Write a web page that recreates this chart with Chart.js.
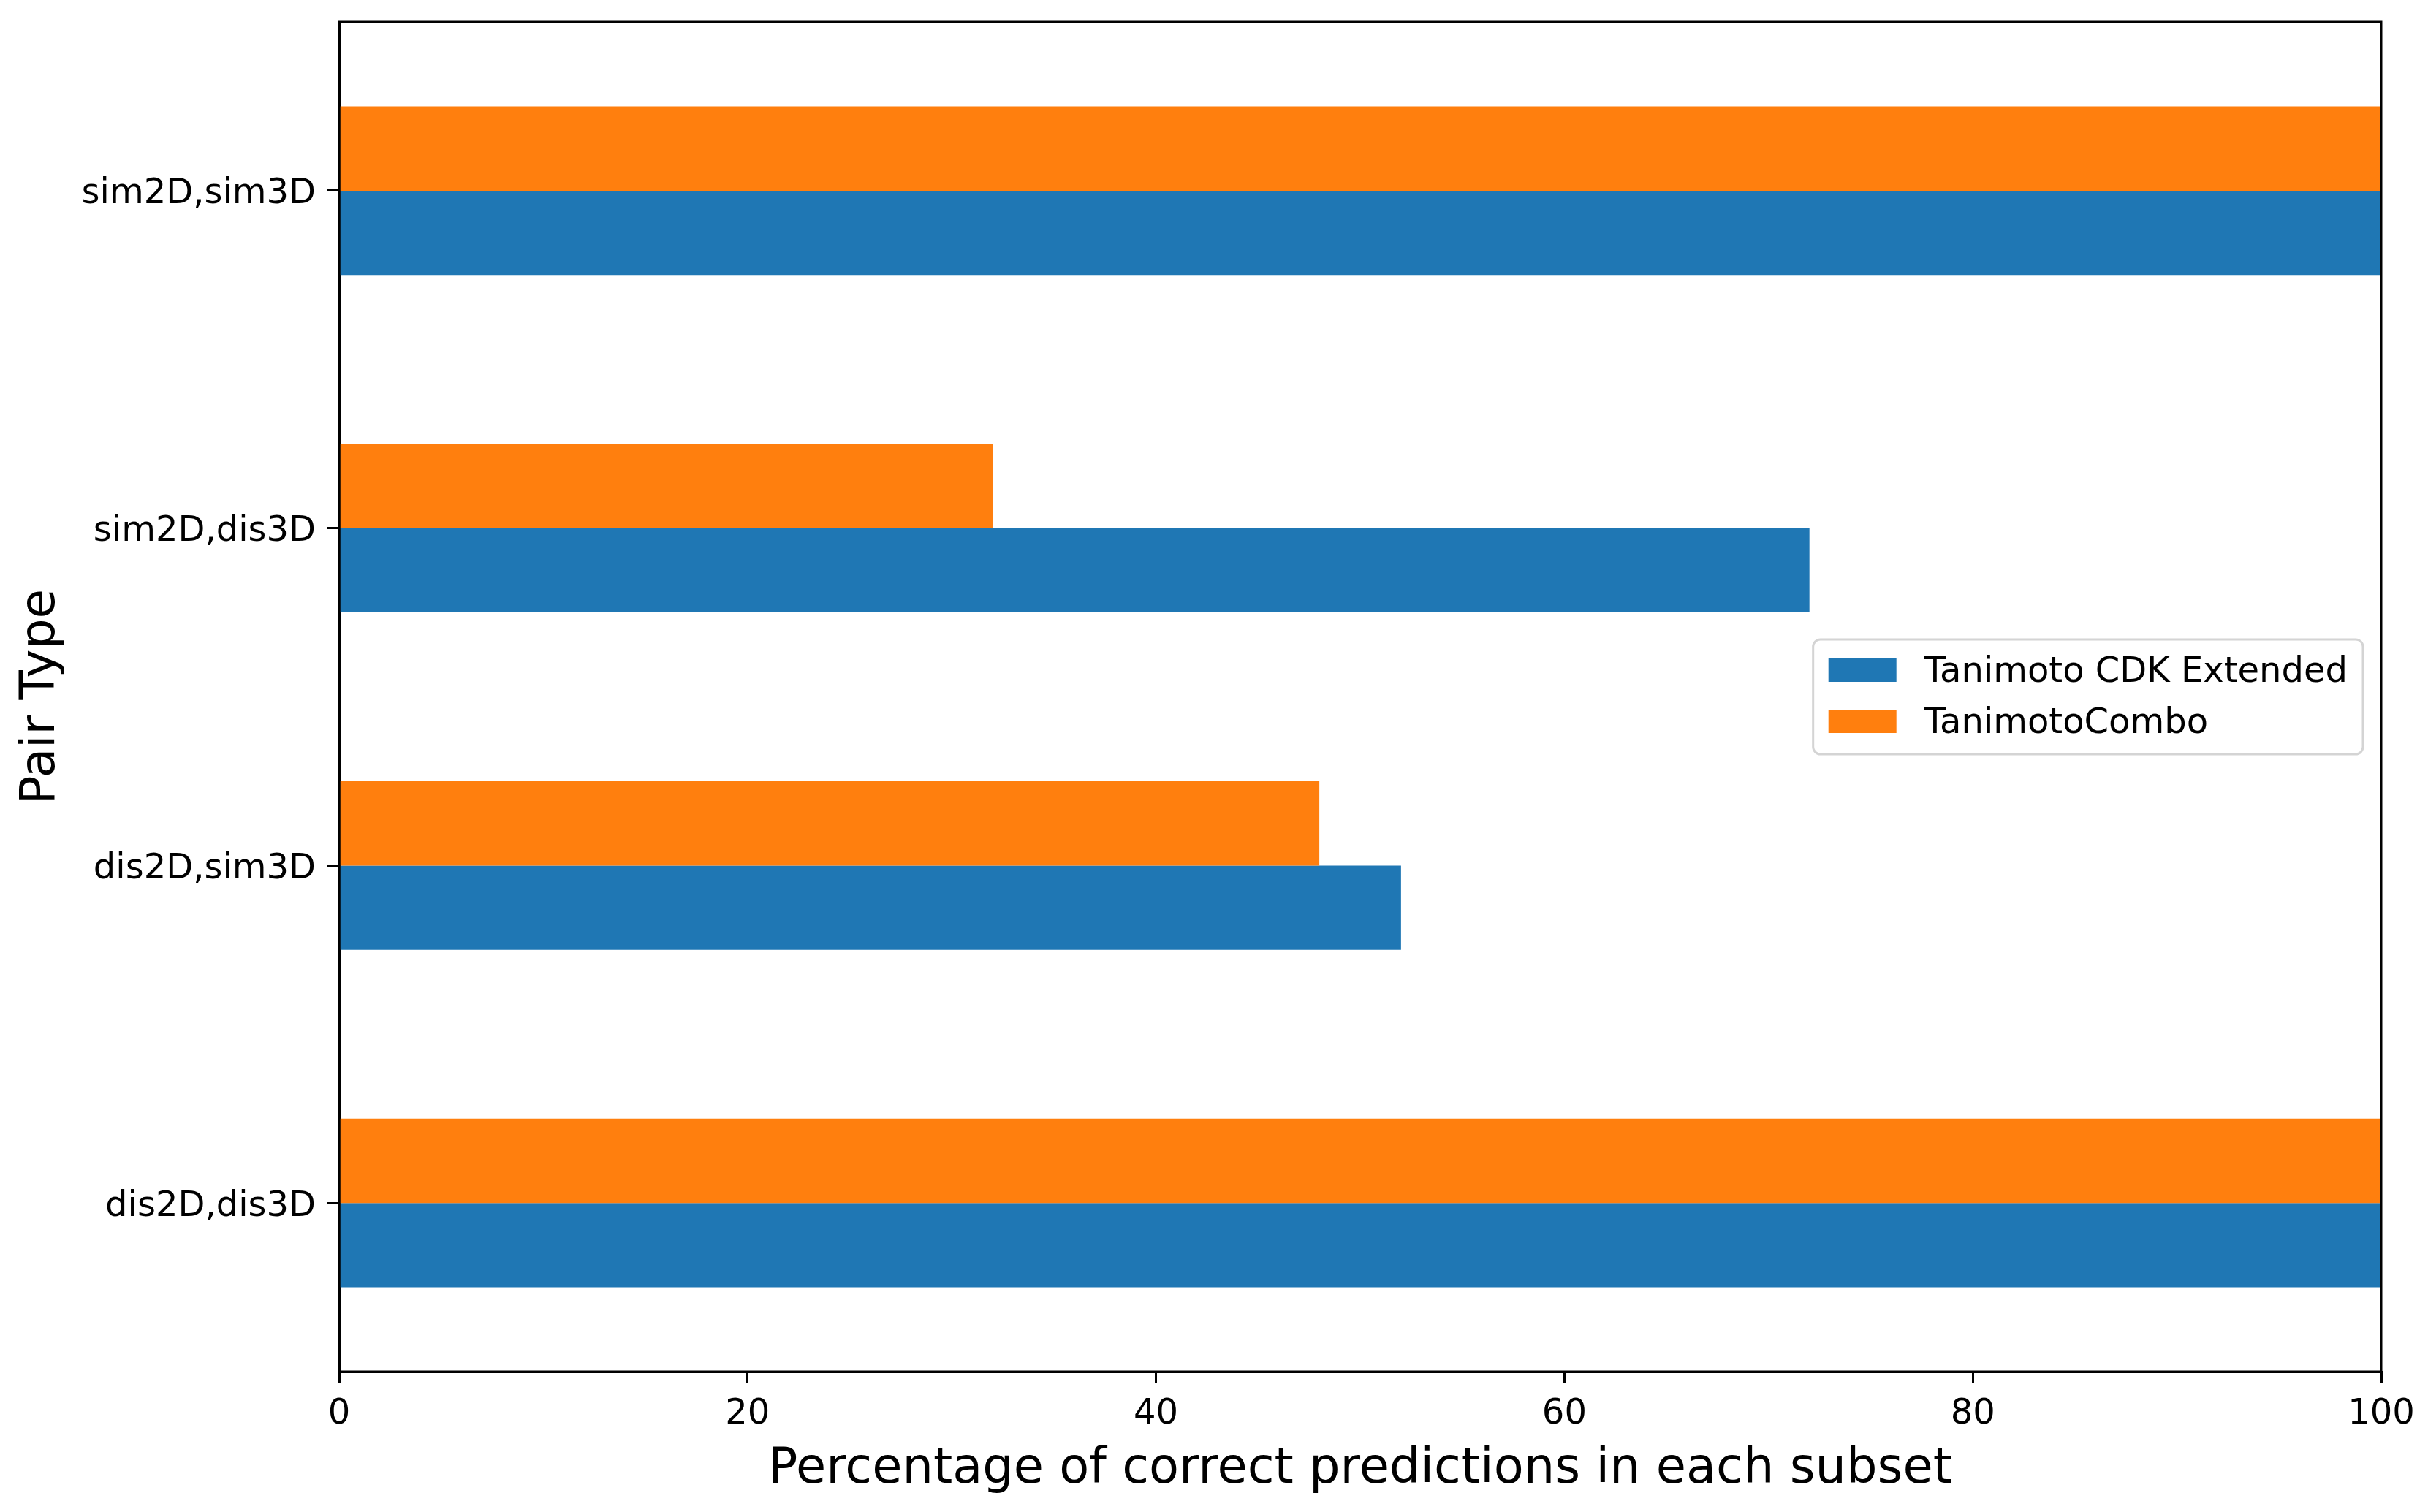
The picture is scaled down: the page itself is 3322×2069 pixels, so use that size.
<!DOCTYPE html>
<html>
<head>
<meta charset="utf-8">
<script src="https://cdn.jsdelivr.net/npm/chart.js@4.4.1/dist/chart.umd.min.js"></script>
<style>
    html, body { margin: 0; padding: 0; background: #fff; }
    #caixa { width: 3322px; height: 2069px; position: relative; }
</style>
</head>
<body>
<div id="caixa"><canvas id="graficoPares"></canvas></div>
<script>
// ======== DADOS ========
const categorias = ["sim2D,sim3D", "sim2D,dis3D", "dis2D,sim3D", "dis2D,dis3D"];
const cdkExtended = [100, 72, 52, 100];
const tanimotoCombo = [100, 32, 48, 100];
const ticksX = [0, 20, 40, 60, 80, 100];

const FONTE = "'DejaVu Sans', sans-serif";
const AZUL = "#1f77b4";
const LARANJA = "#ff7f0e";

// caixa preta em volta da área do gráfico (4 lados)
const moldura = {
    id: "moldura",
    afterDraw(chart) {
        const { ctx, chartArea: a } = chart;
        ctx.save();
        ctx.strokeStyle = "#000";
        ctx.lineWidth = 3;
        ctx.strokeRect(a.left, a.top, a.right - a.left, a.bottom - a.top);
        ctx.restore();
    }
};

// legenda dentro do gráfico, à direita e centralizada
const legendaInterna = {
    id: "legendaInterna",
    afterDraw(chart) {
        const { ctx, chartArea: a } = chart;
        const itens = chart.data.datasets.slice().reverse();
        ctx.save();
        ctx.font = "48px " + FONTE;
        let maior = 0;
        itens.forEach(d => { maior = Math.max(maior, ctx.measureText(d.label).width); });
        const largura = 21 + 93 + 38 + maior + 21;
        const altura = 157;
        const x0 = a.right - 25 - largura;
        const y0 = (a.top + a.bottom) / 2 - altura / 2;

        ctx.beginPath();
        ctx.roundRect(x0, y0, largura, altura, 10);
        ctx.fillStyle = "rgba(255,255,255,0.8)";
        ctx.fill();
        ctx.strokeStyle = "#d4d4d4";
        ctx.lineWidth = 3;
        ctx.stroke();

        itens.forEach((d, i) => {
            const cy = y0 + 42 + i * 70;
            ctx.fillStyle = d.backgroundColor;
            ctx.fillRect(x0 + 21, cy - 16, 93, 32);
            ctx.fillStyle = "#000";
            ctx.textBaseline = "middle";
            ctx.textAlign = "left";
            ctx.fillText(d.label, x0 + 21 + 93 + 38, cy + 4);
        });
        ctx.restore();
    }
};

// ======== GRÁFICO ========
const graficoPares = document.getElementById("graficoPares");

new Chart(graficoPares, {
    type: "bar",
    data: {
        labels: categorias,
        datasets: [
            {
                label: "TanimotoCombo",
                data: tanimotoCombo,
                backgroundColor: LARANJA,
                barPercentage: 1.0,
                categoryPercentage: 0.5
            },
            {
                label: "Tanimoto CDK Extended",
                data: cdkExtended,
                backgroundColor: AZUL,
                barPercentage: 1.0,
                categoryPercentage: 0.5
            }
        ]
    },
    options: {
        indexAxis: "y",
        responsive: true,
        maintainAspectRatio: false,
        animation: false,
        layout: { padding: { top: 30, right: 64, left: 0, bottom: 0 } },
        plugins: {
            legend: { display: false },
            tooltip: { enabled: false }
        },
        scales: {
            x: {
                min: 0,
                max: 100,
                afterBuildTicks: (s) => { s.ticks = ticksX.map(v => ({ value: v })); },
                afterFit: (s) => { s.height = 192; },
                grid: { drawOnChartArea: false, drawTicks: true, tickLength: 16, color: "#000", lineWidth: 3 },
                border: { display: true, color: "#000", width: 3 },
                ticks: { color: "#000", font: { family: FONTE, size: 48 }, padding: 14 },
                title: {
                    display: true,
                    text: "Percentage of correct predictions in each subset",
                    color: "#000",
                    font: { family: FONTE, size: 67, lineHeight: 1 },
                    padding: { top: 0, bottom: 24 }
                }
            },
            y: {
                afterFit: (s) => {
                    s.width = 464;
                    s.paddingTop = 0;
                    s.paddingBottom = 0;
                },
                grid: { offset: false, drawOnChartArea: false, drawTicks: true, tickLength: 16, color: "#000", lineWidth: 3 },
                border: { display: true, color: "#000", width: 3 },
                ticks: { color: "#000", font: { family: FONTE, size: 48 }, padding: 16, labelOffset: 5 },
                title: {
                    display: true,
                    text: "Pair Type",
                    color: "#000",
                    font: { family: FONTE, size: 66, lineHeight: 1 },
                    padding: { top: 24, bottom: 0 }
                }
            }
        }
    },
    plugins: [moldura, legendaInterna]
});
</script>
</body>
</html>
